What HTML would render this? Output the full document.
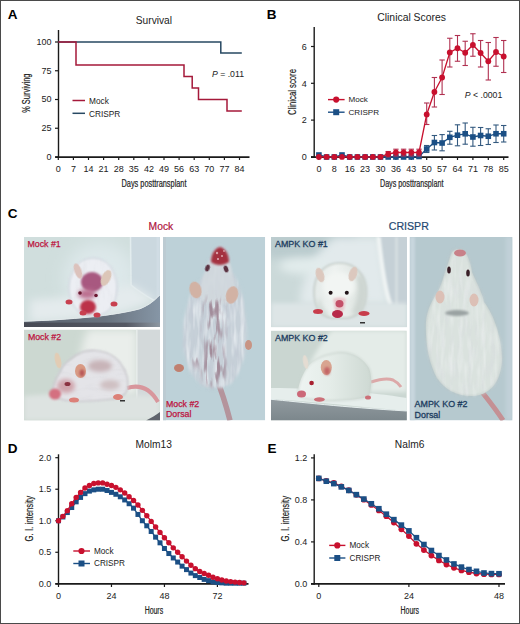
<!DOCTYPE html>
<html><head><meta charset="utf-8"><style>
html,body{margin:0;padding:0;background:#fff;}
body{width:520px;height:624px;overflow:hidden;position:relative;}
svg{position:absolute;left:0;top:0;display:block;}
text{font-family:"Liberation Sans",sans-serif;}
</style></head><body>
<svg width="520" height="624" viewBox="0 0 520 624">
<rect x="0" y="0" width="520" height="624" fill="#fff"/>
<defs>
<filter id="b05" x="-50%" y="-50%" width="200%" height="200%"><feGaussianBlur stdDeviation="0.6"/></filter>
<filter id="b1" x="-50%" y="-50%" width="200%" height="200%"><feGaussianBlur stdDeviation="1"/></filter>
<filter id="b2" x="-50%" y="-50%" width="200%" height="200%"><feGaussianBlur stdDeviation="2"/></filter>
<filter id="b4" x="-50%" y="-50%" width="200%" height="200%"><feGaussianBlur stdDeviation="4"/></filter>
<filter id="b8" x="-50%" y="-50%" width="200%" height="200%"><feGaussianBlur stdDeviation="8"/></filter>
<filter id="furW" x="-5%" y="-5%" width="110%" height="110%">
  <feTurbulence type="fractalNoise" baseFrequency="0.22 0.04" numOctaves="2" seed="4" result="n"/>
  <feColorMatrix in="n" type="matrix" values="0 0 0 0 0.95  0 0 0 0 0.96  0 0 0 0 0.97  2.2 0 0 0 -0.95" result="w"/>
  <feGaussianBlur in="SourceAlpha" stdDeviation="1.5" result="a"/>
  <feComposite in="w" in2="a" operator="in"/>
</filter>
<filter id="furD" x="-20%" y="-20%" width="140%" height="140%">
  <feTurbulence type="fractalNoise" baseFrequency="0.2 0.045" numOctaves="2" seed="9" result="n"/>
  <feColorMatrix in="n" type="matrix" values="0 0 0 0 0.38  0 0 0 0 0.2  0 0 0 0 0.26  4.0 0 0 0 -1.55" result="w"/>
  <feGaussianBlur in="SourceAlpha" stdDeviation="4" result="a"/>
  <feComposite in="w" in2="a" operator="in" result="c"/>
  <feGaussianBlur in="c" stdDeviation="0.4"/>
</filter>
<filter id="furG" x="-5%" y="-5%" width="110%" height="110%">
  <feTurbulence type="fractalNoise" baseFrequency="0.22 0.05" numOctaves="2" seed="2" result="n"/>
  <feColorMatrix in="n" type="matrix" values="0 0 0 0 0.68  0 0 0 0 0.7  0 0 0 0 0.74  2.4 0 0 0 -1.05" result="w"/>
  <feGaussianBlur in="SourceAlpha" stdDeviation="2" result="a"/>
  <feComposite in="w" in2="a" operator="in"/>
</filter>
<filter id="furH" x="-5%" y="-5%" width="110%" height="110%">
  <feTurbulence type="fractalNoise" baseFrequency="0.06 0.25" numOctaves="2" seed="7" result="n"/>
  <feColorMatrix in="n" type="matrix" values="0 0 0 0 0.72  0 0 0 0 0.72  0 0 0 0 0.75  2.0 0 0 0 -0.95" result="w"/>
  <feGaussianBlur in="SourceAlpha" stdDeviation="2" result="a"/>
  <feComposite in="w" in2="a" operator="in"/>
</filter>
<filter id="furW3" x="-5%" y="-5%" width="110%" height="110%">
  <feTurbulence type="fractalNoise" baseFrequency="0.22 0.04" numOctaves="2" seed="4" result="n"/>
  <feColorMatrix in="n" type="matrix" values="0 0 0 0 0.83  0 0 0 0 0.87  0 0 0 0 0.9  2.0 0 0 0 -0.85" result="w"/>
  <feGaussianBlur in="SourceAlpha" stdDeviation="1.5" result="a"/>
  <feComposite in="w" in2="a" operator="in"/>
</filter>
<filter id="furG3" x="-5%" y="-5%" width="110%" height="110%">
  <feTurbulence type="fractalNoise" baseFrequency="0.22 0.05" numOctaves="2" seed="2" result="n"/>
  <feColorMatrix in="n" type="matrix" values="0 0 0 0 0.55  0 0 0 0 0.6  0 0 0 0 0.67  2.4 0 0 0 -1.0" result="w"/>
  <feGaussianBlur in="SourceAlpha" stdDeviation="2" result="a"/>
  <feComposite in="w" in2="a" operator="in"/>
</filter>
<filter id="furD3" x="-20%" y="-20%" width="140%" height="140%">
  <feTurbulence type="fractalNoise" baseFrequency="0.25 0.05" numOctaves="2" seed="11" result="n"/>
  <feColorMatrix in="n" type="matrix" values="0 0 0 0 0.36  0 0 0 0 0.26  0 0 0 0 0.32  4.4 0 0 0 -2.1" result="w"/>
  <feGaussianBlur in="SourceAlpha" stdDeviation="3" result="a"/>
  <feComposite in="w" in2="a" operator="in" result="c"/>
  <feGaussianBlur in="c" stdDeviation="0.4"/>
</filter>
<clipPath id="c1"><rect x="24" y="237" width="136" height="90"/></clipPath>
<clipPath id="c2"><rect x="24" y="329.6" width="136" height="90.8"/></clipPath>
<clipPath id="c3"><rect x="163" y="237" width="102.2" height="183.4"/></clipPath>
<clipPath id="c4"><rect x="271" y="237" width="136.1" height="90.3"/></clipPath>
<clipPath id="c5"><rect x="271" y="330.6" width="135.8" height="89.8"/></clipPath>
<clipPath id="c6"><rect x="409.6" y="237" width="102.9" height="183.4"/></clipPath>
<linearGradient id="g1b" x1="0" y1="0" x2="1" y2="0"><stop offset="0" stop-color="#8a94a0"/><stop offset="1" stop-color="#b8c2cb"/></linearGradient>
<linearGradient id="g1s" x1="0" y1="0" x2="1" y2="0"><stop offset="0" stop-color="#474a54"/><stop offset="0.75" stop-color="#555964"/><stop offset="1" stop-color="#8d98a2"/></linearGradient>
<linearGradient id="g3" x1="0" y1="0" x2="0" y2="1"><stop offset="0" stop-color="#c6d8de"/><stop offset="1" stop-color="#bfd3da"/></linearGradient>
<linearGradient id="g6" x1="0" y1="0" x2="1" y2="0"><stop offset="0" stop-color="#c4d2da"/><stop offset="1" stop-color="#cdd9df"/></linearGradient>
<linearGradient id="g5b" x1="0" y1="0" x2="0" y2="1"><stop offset="0" stop-color="#a9b1b6"/><stop offset="1" stop-color="#8c949a"/></linearGradient>
<linearGradient id="g1g" x1="0" y1="0" x2="1" y2="0"><stop offset="0" stop-color="#58606c"/><stop offset="0.6" stop-color="#68727e"/><stop offset="1" stop-color="#8696a6"/></linearGradient>
<linearGradient id="g5g" x1="0" y1="0" x2="0" y2="1"><stop offset="0" stop-color="#919a9f"/><stop offset="1" stop-color="#7c878c"/></linearGradient>
<linearGradient id="g5m" x1="0" y1="0" x2="1" y2="0"><stop offset="0" stop-color="#eef4f2"/><stop offset="0.45" stop-color="#e4ece8"/><stop offset="1" stop-color="#ced9d3"/></linearGradient>
<linearGradient id="g4m" x1="0" y1="0" x2="1" y2="0"><stop offset="0" stop-color="#e4eae8"/><stop offset="0.4" stop-color="#eef2f0"/><stop offset="1" stop-color="#dbe2de"/></linearGradient>
</defs>
<!-- C label and headers -->
<text x="7.7" y="217.5" font-size="13.5" font-weight="bold" fill="#000">C</text>
<text x="160.9" y="230.3" font-size="10.3" text-anchor="middle" fill="#b0143e" stroke="#b0143e" stroke-width="0.2">Mock</text>
<text x="408.8" y="230.1" font-size="10.6" text-anchor="middle" fill="#244870" stroke="#244870" stroke-width="0.2">CRISPR</text>
<!-- P1 Mock #1 -->
<g clip-path="url(#c1)">
<rect x="24" y="237" width="136" height="90" fill="#d0dedd"/>
<ellipse cx="100" cy="278" rx="36" ry="36" fill="#dde8ea" filter="url(#b8)"/>
<path d="M131 237 L160 237 L160 300 L155 301 C148 297 138 291 131.5 285 Z" fill="#cbd8df" filter="url(#b05)"/>
<path d="M130.5 237 L131 285 C138 291 148 297 155 301" stroke="#e2ecee" stroke-width="1.5" fill="none" filter="url(#b05)"/>
<rect x="156.5" y="237" width="3" height="90" fill="#d0dce4" filter="url(#b05)"/>
<path d="M30 322 C80 320 130 312 150 302 L156 300 C150 296 140 290 131.5 285 C110 292 70 298 30 300 Z" fill="#e4ebed" filter="url(#b4)"/>
<path d="M24 327 L24 321.5 C70 320 115 316 140 309 C150 305 155 300 159 296 L160 296 L160 327 Z" fill="url(#g1g)" filter="url(#b05)"/>
<path d="M24 321.2 C70 319.7 115 315.7 140 308.7 C150 304.7 155 299.7 159 295.7" stroke="#e4eaec" stroke-width="1" fill="none"/>
<rect x="24" y="322.6" width="136" height="4.6" fill="url(#g1s)"/>
<path d="M93 258 C108 258 117 272 117 288 C117 304 108 316 93 316 C78 316 69 304 69 288 C69 272 78 258 93 258 Z" fill="#eceef3" filter="url(#b1)"/>
<path d="M93 258 C108 258 117 272 117 288 C117 304 108 316 93 316 C78 316 69 304 69 288 C69 272 78 258 93 258 Z" fill="#000" opacity="0.35" filter="url(#furG)"/>
<path d="M93 258 C108 258 117 272 117 288 C117 304 108 316 93 316 C78 316 69 304 69 288 C69 272 78 258 93 258 Z" fill="none" stroke="#c8ced8" stroke-width="1" filter="url(#b1)"/>
<ellipse cx="92" cy="282" rx="11" ry="10" fill="#a85880" filter="url(#b1)"/>
<ellipse cx="87" cy="294" rx="9" ry="5" fill="#bc7090" filter="url(#b2)"/>
<ellipse cx="78" cy="271" rx="3.5" ry="8" transform="rotate(-20 78 271)" fill="#dcc2bc" filter="url(#b05)"/>
<ellipse cx="106" cy="278" rx="4.5" ry="8.5" transform="rotate(25 106 278)" fill="#dcc6b8" filter="url(#b05)"/>
<ellipse cx="88" cy="307" rx="8" ry="7" fill="#bc3048" filter="url(#b1)"/>
<circle cx="80" cy="293" r="1.8" fill="#6a1830"/>
<circle cx="96" cy="295.5" r="1.8" fill="#6a1830"/>
<ellipse cx="69" cy="302" rx="3.5" ry="2.5" fill="#c84050" filter="url(#b05)"/>
<ellipse cx="114" cy="304" rx="3.5" ry="2.5" fill="#c84050" filter="url(#b05)"/>
<ellipse cx="83" cy="313" rx="3.5" ry="2.5" fill="#c84050" filter="url(#b05)"/>
<ellipse cx="97" cy="315" rx="3.5" ry="2.5" fill="#c84050" filter="url(#b05)"/>
</g>
<text x="27.5" y="247" font-size="8.8" fill="#bc1440" stroke="#bc1440" stroke-width="0.25">Mock #1</text>
<!-- P2 Mock #2 -->
<g clip-path="url(#c2)">
<rect x="24" y="329.6" width="136" height="91" fill="#ccd8d1"/>
<path d="M88 329.6 L137 329.6 L137 396 L80 396 C78 370 80 345 88 329.6 Z" fill="#eaeeeb" filter="url(#b4)"/>
<rect x="137" y="329.6" width="23" height="72" fill="#d3d9da" filter="url(#b05)"/>
<rect x="136" y="329.6" width="1.6" height="70" fill="#e6ecea" filter="url(#b05)"/>
<path d="M24 396 C60 393 120 393 160 397 L160 420.4 L24 420.4 Z" fill="#dde3e1" filter="url(#b2)"/>
<path d="M146 420.4 C151 418 156 415 160 412 L160 420.4 Z" fill="#5e646c" filter="url(#b05)"/>
<path d="M127 388 C140 384 150 388 158 402" stroke="#d8969c" stroke-width="4" fill="none" filter="url(#b05)"/>
<path d="M53 394 C52 386 56 378 60 372 C62 366 66 362 71 359 C78 353 86 350 94 350.5 C104 351 114 354 121 364 C127 372 129 382 127 391 C124 397 116 399 108 399.5 C96 401 82 401.5 72 401 C64 400.5 56 399 53 394 Z" fill="#e4e4e8" filter="url(#b1)"/>
<path d="M53 394 C52 386 56 378 60 372 C62 366 66 362 71 359 C78 353 86 350 94 350.5 C104 351 114 354 121 364 C127 372 129 382 127 391 C124 397 116 399 108 399.5 C96 401 82 401.5 72 401 C64 400.5 56 399 53 394 Z" fill="#000" opacity="0.85" filter="url(#furH)"/>
<path d="M53 394 C52 386 56 378 60 372 C62 366 66 362 71 359 C78 353 86 350 94 350.5 C104 351 114 354 121 364 C127 372 129 382 127 391 C124 397 116 399 108 399.5 C96 401 82 401.5 72 401 C64 400.5 56 399 53 394 Z" fill="none" stroke="#c0bec4" stroke-width="1.2" filter="url(#b1)"/>
<ellipse cx="100" cy="366" rx="12" ry="6" fill="#c8b4b8" filter="url(#b2)"/>
<ellipse cx="110" cy="385" rx="10" ry="5" fill="#cfc0c2" filter="url(#b2)"/>
<ellipse cx="66" cy="386" rx="9" ry="7" fill="#d0a4ac" filter="url(#b2)"/>
<ellipse cx="58" cy="360.5" rx="3" ry="8" transform="rotate(-12 58 360.5)" fill="#e2ccb4" filter="url(#b05)"/>
<ellipse cx="80.5" cy="371" rx="5.5" ry="7" fill="#d89a84" filter="url(#b05)"/>
<ellipse cx="82" cy="373" rx="2.5" ry="3.5" fill="#b85858" filter="url(#b1)"/>
<ellipse cx="55" cy="394" rx="6" ry="5.5" fill="#d47080" filter="url(#b1)"/>
<ellipse cx="67.5" cy="384" rx="3" ry="2" fill="#8a3040" filter="url(#b05)"/>
<ellipse cx="74" cy="400" rx="5" ry="2.5" fill="#dc8078" filter="url(#b05)"/>
<ellipse cx="118" cy="397" rx="5" ry="3" fill="#dc8078" filter="url(#b05)"/>
<rect x="120" y="400" width="5" height="1.5" fill="#333"/>
</g>
<text x="27.9" y="340.2" font-size="8.8" fill="#bc1440" stroke="#bc1440" stroke-width="0.25">Mock #2</text>
<!-- P3 Mock dorsal -->
<g clip-path="url(#c3)">
<rect x="163" y="237" width="102.2" height="183.4" fill="#bdd1d8"/>
<rect x="163" y="237" width="3" height="183.4" fill="#bccbd2" filter="url(#b05)"/>
<path d="M216 377 C222 392 226 405 230 420.4" stroke="#b4949c" stroke-width="5.5" fill="none" filter="url(#b05)"/>
<path d="M220 247 C225 249 229 258 231 272 C236 278 240 286 242 296 C246 310 247 325 246 340 C245 360 240 375 230 384 C222 389 208 389 200 384 C190 375 184 360 183 340 C183 322 186 305 192 292 C196 284 202 278 207 272 C210 258 215 249 220 247 Z" fill="#c6d0d8" filter="url(#b1)"/>
<path d="M220 247 C225 249 229 258 231 272 C236 278 240 286 242 296 C246 310 247 325 246 340 C245 360 240 375 230 384 C222 389 208 389 200 384 C190 375 184 360 183 340 C183 322 186 305 192 292 C196 284 202 278 207 272 C210 258 215 249 220 247 Z" fill="#000" filter="url(#furG3)"/>
<path d="M220 247 C225 249 229 258 231 272 C236 278 240 286 242 296 C246 310 247 325 246 340 C245 360 240 375 230 384 C222 389 208 389 200 384 C190 375 184 360 183 340 C183 322 186 305 192 292 C196 284 202 278 207 272 C210 258 215 249 220 247 Z" fill="#000" filter="url(#furW3)"/>
<path d="M220 250 C226 252 231 264 233 276 C236 286 236 296 230 302 C222 306 210 306 202 300 C198 292 201 280 206 270 C209 260 214 251 220 250 Z" fill="#d2d9de" opacity="0.85" filter="url(#b1)"/>
<ellipse cx="195.5" cy="290" rx="6" ry="8.5" transform="rotate(-15 195.5 290)" fill="#d2b2a4" filter="url(#b05)"/>
<ellipse cx="232" cy="295" rx="6" ry="9" transform="rotate(15 232 295)" fill="#d2b2a4" filter="url(#b05)"/>
<path d="M220 247 C225 248 229 254 229 262 C223 266 216 266 211 262 C211 254 215 248 220 247 Z" fill="#a4303f" filter="url(#b1)"/>
<circle cx="217" cy="253" r="1.2" fill="#d8a0a8"/><circle cx="222" cy="256" r="1.1" fill="#d8a0a8"/><circle cx="218" cy="259" r="1" fill="#e0b0b8"/><circle cx="224" cy="251" r="0.9" fill="#d8a0a8"/>

<ellipse cx="207.5" cy="268" rx="2.2" ry="3.5" transform="rotate(20 207.5 268)" fill="#5a3040" filter="url(#b05)"/>
<ellipse cx="226" cy="269" rx="2.2" ry="3.5" transform="rotate(-20 226 269)" fill="#5a3040" filter="url(#b05)"/>
<path d="M214 296 C221 298 224 320 224 345 C224 370 221 386 214 386 C207 386 204 370 204 345 C204 320 207 298 214 296 Z" fill="#000" filter="url(#furD3)"/>
<ellipse cx="214" cy="306" rx="11" ry="8" fill="#000" filter="url(#furD3)"/>
<ellipse cx="214" cy="370" rx="11" ry="14" fill="#000" filter="url(#furD3)"/>
<ellipse cx="196" cy="358" rx="4" ry="10" fill="#000" filter="url(#furD3)"/>
<ellipse cx="179" cy="368" rx="5" ry="4" fill="#c08070" filter="url(#b05)"/>
<ellipse cx="248.5" cy="345" rx="3.5" ry="5" fill="#c89484" filter="url(#b05)"/>
</g>
<text x="166" y="406.5" font-size="8.8" fill="#bc1440" stroke="#bc1440" stroke-width="0.25">Mock #2</text>
<text x="166" y="417.3" font-size="8.8" fill="#bc1440" stroke="#bc1440" stroke-width="0.25">Dorsal</text>
<!-- P4 AMPK KO #1 -->
<g clip-path="url(#c4)">
<rect x="271" y="237" width="136.1" height="90.3" fill="#cbd9d9"/>
<rect x="266" y="232" width="90" height="26" fill="#bacbce" filter="url(#b4)"/>
<path d="M335 237 L380 237 C383 265 386 290 390 305 L300 305 C300 280 315 250 335 237 Z" fill="#e2eaec" filter="url(#b4)"/>
<ellipse cx="305" cy="266" rx="26" ry="8" fill="#e2ecec" filter="url(#b4)"/>
<path d="M379 237 C382 265 385 290 391 305 L407 305 L407 237 Z" fill="#c5d0d6" filter="url(#b05)"/>
<path d="M378.5 237 C381.5 265 384.5 290 390.5 305" stroke="#eef3f3" stroke-width="4.5" fill="none" filter="url(#b1)"/>
<rect x="395" y="237" width="3" height="70" fill="#d4dde0" filter="url(#b1)"/>
<path d="M271 303 L407 303 L407 327.3 L271 327.3 Z" fill="#dde5e6" filter="url(#b2)"/>
<path d="M340 263 C356 263 366 275 366 292 C366 306 360 316 348 318 L332 318 C320 316 314 306 314 292 C314 275 324 263 340 263 Z" fill="url(#g4m)" filter="url(#b05)"/>
<path d="M340 263 C356 263 366 275 366 292 C366 306 360 316 348 318 L332 318 C320 316 314 306 314 292 C314 275 324 263 340 263 Z" fill="none" stroke="#c4ccc8" stroke-width="1.6" filter="url(#b1)"/>
<path d="M362 275 C368 285 368 300 362 312 C358 316 354 316 352 312 C358 300 360 288 356 276 Z" fill="#cdd5d1" filter="url(#b2)"/>
<path d="M318 300 C316 306 318 312 324 316 L330 316 C324 310 321 305 320 298 Z" fill="#d2dad6" filter="url(#b2)"/>
<ellipse cx="339" cy="286" rx="16" ry="14" fill="#f2f5f3" filter="url(#b2)"/>
<path d="M333 299 C336 297 343 297 346 299 L344 310 C341 312 337 312 335 310 Z" fill="#e8c8cc" filter="url(#b1)"/>
<ellipse cx="320" cy="275" rx="4" ry="7.5" transform="rotate(-18 320 275)" fill="#dcc8be" filter="url(#b05)"/>
<ellipse cx="353" cy="274" rx="4" ry="7.5" transform="rotate(18 353 274)" fill="#dcc8be" filter="url(#b05)"/>
<circle cx="330.6" cy="292.7" r="2" fill="#201418"/>
<circle cx="346.8" cy="292.7" r="2" fill="#201418"/>
<ellipse cx="339.5" cy="303.7" rx="4" ry="3.8" fill="#c45068" filter="url(#b05)"/>
<ellipse cx="337.5" cy="314" rx="5.5" ry="4" fill="#b82c48" filter="url(#b05)"/>
<ellipse cx="318" cy="311.5" rx="5" ry="2.5" fill="#c83c4c" filter="url(#b05)"/>
<ellipse cx="364" cy="313.4" rx="5.5" ry="2.5" fill="#c83c4c" filter="url(#b05)"/>
<rect x="360" y="322" width="5" height="1.5" fill="#333"/>
</g>
<text x="275.0" y="246.8" font-size="8.9" fill="#1c3c60" stroke="#1c3c60" stroke-width="0.3">AMPK KO #1</text>
<!-- P5 AMPK KO #2 -->
<g clip-path="url(#c5)">
<rect x="271" y="330.6" width="135.8" height="89.8" fill="#cad6d1"/>
<path d="M332 330.6 L407 330.6 L407 392 L300 392 C305 370 318 345 332 330.6 Z" fill="#e4ece8" filter="url(#b2)"/>
<path d="M271 388 C320 388 370 392 407 398 L407 411 C360 407 310 401 271 399.3 Z" fill="#e6eeec" filter="url(#b05)"/>
<path d="M271 399.3 C300 402 340 407 407 411 L407 420.4 L271 420.4 Z" fill="url(#g5g)" filter="url(#b05)"/>
<path d="M271 399.3 C300 402 340 407 407 411" stroke="#e6eeee" stroke-width="1" fill="none"/>
<path d="M371 382 C380 379 388 378 393 380 C397 382 399 384 401 387" stroke="#dca8a8" stroke-width="3" fill="none" filter="url(#b05)"/>
<path d="M298 394 C298 386 301 378 305 371 C310 362 320 356 331 354 C337 352 343 352 348 353 C357 355 364 360 369 368 C372 376 372 386 369 396 C364 399 350 400 336 400.5 C324 401 312 400 304 398 C300 397 298 396 298 394 Z" fill="url(#g5m)" filter="url(#b05)"/>
<path d="M298 394 C298 386 301 378 305 371 C310 362 320 356 331 354 C337 352 343 352 348 353 C357 355 364 360 369 368 C372 376 372 386 369 396 C364 399 350 400 336 400.5 C324 401 312 400 304 398 C300 397 298 396 298 394 Z" fill="none" stroke="#c4cec8" stroke-width="1" filter="url(#b1)"/>
<ellipse cx="305.6" cy="362" rx="2.5" ry="7" transform="rotate(-10 305.6 362)" fill="#e4dcd2" filter="url(#b05)"/>
<ellipse cx="326.3" cy="367.5" rx="5.5" ry="7.5" fill="#d8a490" filter="url(#b05)"/>
<ellipse cx="327" cy="371" rx="3" ry="4" fill="#c46868" filter="url(#b1)"/>
<ellipse cx="301.5" cy="394" rx="4.5" ry="3.5" fill="#cc6878" filter="url(#b05)"/>
<circle cx="311.6" cy="383" r="2.3" fill="#a82030"/>
<ellipse cx="319.4" cy="399.5" rx="5.5" ry="2.2" fill="#cc7078" filter="url(#b05)"/>
<ellipse cx="368" cy="397.5" rx="3" ry="2" fill="#cc7078" filter="url(#b05)"/>
</g>
<text x="275.0" y="340.6" font-size="8.9" fill="#1c3c60" stroke="#1c3c60" stroke-width="0.3">AMPK KO #2</text>
<!-- P6 CRISPR dorsal -->
<g clip-path="url(#c6)">
<rect x="409.6" y="237" width="102.9" height="183.4" fill="#b6c9cf"/>
<rect x="410" y="237" width="5" height="183.4" fill="#c8d6de" filter="url(#b1)"/>
<rect x="506" y="237" width="6.5" height="183.4" fill="#c2d2d9" filter="url(#b2)"/>
<path d="M482 392 C490 402 497 411 503 420.4" stroke="#c49094" stroke-width="5" fill="none" filter="url(#b05)"/>
<path d="M460 249 C466 250 470 260 472 272 C476 282 482 292 484 302 C494 315 502 338 502 360 C501 380 492 394 474 396 C458 397 445 390 437 378 C429 364 425 342 426 322 C427 310 432 300 438 292 C444 278 448 262 452 252 C454 250 457 249 460 249 Z" fill="#dae2de" filter="url(#b05)"/>
<path d="M460 249 C466 250 470 260 472 272 C476 282 482 292 484 302 C494 315 502 338 502 360 C501 380 492 394 474 396 C458 397 445 390 437 378 C429 364 425 342 426 322 C427 310 432 300 438 292 C444 278 448 262 452 252 C454 250 457 249 460 249 Z" fill="none" stroke="#b8c4c4" stroke-width="1.2" filter="url(#b1)"/>
<path d="M460 249 C466 250 470 260 472 272 C476 282 482 292 484 302 C494 315 502 338 502 360 C501 380 492 394 474 396 C458 397 445 390 437 378 C429 364 425 342 426 322 C427 310 432 300 438 292 C444 278 448 262 452 252 C454 250 457 249 460 249 Z" fill="#000" opacity="0.4" filter="url(#furG)"/>
<path d="M460 249 C466 250 470 260 472 272 C476 282 482 292 484 302 C494 315 502 338 502 360 C501 380 492 394 474 396 C458 397 445 390 437 378 C429 364 425 342 426 322 C427 310 432 300 438 292 C444 278 448 262 452 252 C454 250 457 249 460 249 Z" fill="#000" opacity="0.4" filter="url(#furW)"/>
<ellipse cx="460" cy="253" rx="6" ry="3.5" fill="#c88088" filter="url(#b05)"/>
<ellipse cx="449" cy="270" rx="1.8" ry="3.5" fill="#3a2028"/>
<ellipse cx="468" cy="273" rx="1.8" ry="3.5" fill="#3a2028"/>
<ellipse cx="440" cy="297" rx="4.5" ry="6.5" fill="#dcc0b6" filter="url(#b05)"/>
<ellipse cx="474" cy="300" rx="4.5" ry="6.5" fill="#dcc0b6" filter="url(#b05)"/>
<ellipse cx="457" cy="313" rx="12" ry="3" fill="#9aa2a2" filter="url(#b1)"/>
</g>
<text x="414.6" y="406.8" font-size="8.9" fill="#1c3c60" stroke="#1c3c60" stroke-width="0.3">AMPK KO #2</text>
<text x="414.6" y="417.8" font-size="8.9" fill="#1c3c60" stroke="#1c3c60" stroke-width="0.3">Dorsal</text>

<text x="7.80" y="18.70" font-size="13.5" text-anchor="start" fill="#000" font-weight="bold" >A</text>
<text x="153.90" y="24.00" font-size="10.2" text-anchor="middle" fill="#222" font-weight="normal" >Survival</text>
<line x1="58.50" y1="30.00" x2="58.50" y2="157.80" stroke="#1a1a1a" stroke-width="1.4"/>
<line x1="55.20" y1="157.05" x2="249.50" y2="157.05" stroke="#1a1a1a" stroke-width="1.7"/>
<line x1="55.00" y1="157.00" x2="58.50" y2="157.00" stroke="#1a1a1a" stroke-width="1.2"/>
<text x="51.60" y="159.80" font-size="9" text-anchor="end" fill="#222" font-weight="normal" >0</text>
<line x1="55.00" y1="128.25" x2="58.50" y2="128.25" stroke="#1a1a1a" stroke-width="1.2"/>
<text x="51.60" y="131.05" font-size="9" text-anchor="end" fill="#222" font-weight="normal" >25</text>
<line x1="55.00" y1="99.50" x2="58.50" y2="99.50" stroke="#1a1a1a" stroke-width="1.2"/>
<text x="51.60" y="102.30" font-size="9" text-anchor="end" fill="#222" font-weight="normal" >50</text>
<line x1="55.00" y1="70.75" x2="58.50" y2="70.75" stroke="#1a1a1a" stroke-width="1.2"/>
<text x="51.60" y="73.55" font-size="9" text-anchor="end" fill="#222" font-weight="normal" >75</text>
<line x1="55.00" y1="42.00" x2="58.50" y2="42.00" stroke="#1a1a1a" stroke-width="1.2"/>
<text x="51.60" y="44.80" font-size="9" text-anchor="end" fill="#222" font-weight="normal" >100</text>
<line x1="58.30" y1="157.00" x2="58.30" y2="160.00" stroke="#1a1a1a" stroke-width="1.2"/>
<text x="58.30" y="171.80" font-size="9" text-anchor="middle" fill="#222" font-weight="normal" >0</text>
<line x1="73.40" y1="157.00" x2="73.40" y2="160.00" stroke="#1a1a1a" stroke-width="1.2"/>
<text x="73.40" y="171.80" font-size="9" text-anchor="middle" fill="#222" font-weight="normal" >7</text>
<line x1="88.50" y1="157.00" x2="88.50" y2="160.00" stroke="#1a1a1a" stroke-width="1.2"/>
<text x="88.50" y="171.80" font-size="9" text-anchor="middle" fill="#222" font-weight="normal" >14</text>
<line x1="103.60" y1="157.00" x2="103.60" y2="160.00" stroke="#1a1a1a" stroke-width="1.2"/>
<text x="103.60" y="171.80" font-size="9" text-anchor="middle" fill="#222" font-weight="normal" >21</text>
<line x1="118.70" y1="157.00" x2="118.70" y2="160.00" stroke="#1a1a1a" stroke-width="1.2"/>
<text x="118.70" y="171.80" font-size="9" text-anchor="middle" fill="#222" font-weight="normal" >28</text>
<line x1="133.80" y1="157.00" x2="133.80" y2="160.00" stroke="#1a1a1a" stroke-width="1.2"/>
<text x="133.80" y="171.80" font-size="9" text-anchor="middle" fill="#222" font-weight="normal" >35</text>
<line x1="148.90" y1="157.00" x2="148.90" y2="160.00" stroke="#1a1a1a" stroke-width="1.2"/>
<text x="148.90" y="171.80" font-size="9" text-anchor="middle" fill="#222" font-weight="normal" >42</text>
<line x1="164.00" y1="157.00" x2="164.00" y2="160.00" stroke="#1a1a1a" stroke-width="1.2"/>
<text x="164.00" y="171.80" font-size="9" text-anchor="middle" fill="#222" font-weight="normal" >49</text>
<line x1="179.10" y1="157.00" x2="179.10" y2="160.00" stroke="#1a1a1a" stroke-width="1.2"/>
<text x="179.10" y="171.80" font-size="9" text-anchor="middle" fill="#222" font-weight="normal" >56</text>
<line x1="194.20" y1="157.00" x2="194.20" y2="160.00" stroke="#1a1a1a" stroke-width="1.2"/>
<text x="194.20" y="171.80" font-size="9" text-anchor="middle" fill="#222" font-weight="normal" >63</text>
<line x1="209.30" y1="157.00" x2="209.30" y2="160.00" stroke="#1a1a1a" stroke-width="1.2"/>
<text x="209.30" y="171.80" font-size="9" text-anchor="middle" fill="#222" font-weight="normal" >70</text>
<line x1="224.40" y1="157.00" x2="224.40" y2="160.00" stroke="#1a1a1a" stroke-width="1.2"/>
<text x="224.40" y="171.80" font-size="9" text-anchor="middle" fill="#222" font-weight="normal" >77</text>
<line x1="239.50" y1="157.00" x2="239.50" y2="160.00" stroke="#1a1a1a" stroke-width="1.2"/>
<text x="239.50" y="171.80" font-size="9" text-anchor="middle" fill="#222" font-weight="normal" >84</text>
<text x="154" y="186.5" font-size="10" text-anchor="middle" fill="#222" textLength="65" stroke="#222" stroke-width="0.2" lengthAdjust="spacingAndGlyphs">Days posttransplant</text>
<text transform="translate(29.70,93.20) rotate(-90)" x="0" y="0" font-size="10" text-anchor="middle" fill="#222" stroke="#222" stroke-width="0.2" textLength="39.2" lengthAdjust="spacingAndGlyphs">% Surviving</text>
<polyline points="58.30,42.00 220.80,42.00 220.80,53.00 241.80,53.00" fill="none" stroke="#274862" stroke-width="1.5" stroke-linejoin="miter"/>
<polyline points="58.30,42.00 76.00,42.00 76.00,65.00 184.00,65.00 184.00,76.50 192.20,76.50 192.20,88.00 198.50,88.00 198.50,99.50 227.00,99.50 227.00,111.00 241.80,111.00" fill="none" stroke="#a5193a" stroke-width="1.5" stroke-linejoin="miter"/>
<line x1="72.50" y1="100.50" x2="85.00" y2="100.50" stroke="#a5193a" stroke-width="1.5"/>
<line x1="72.50" y1="113.30" x2="85.00" y2="113.30" stroke="#274862" stroke-width="1.5"/>
<text x="89.00" y="103.90" font-size="8.3" text-anchor="start" fill="#222" font-weight="normal" >Mock</text>
<text x="89.00" y="116.60" font-size="8.3" text-anchor="start" fill="#222" font-weight="normal" >CRISPR</text>
<text x="212" y="76.5" font-size="8.7" fill="#222"><tspan font-style="italic">P</tspan> = .011</text>
<text x="266.80" y="18.70" font-size="13.5" text-anchor="start" fill="#000" font-weight="bold" >B</text>
<text x="411.60" y="21.20" font-size="10.4" text-anchor="middle" fill="#222" font-weight="normal" >Clinical Scores</text>
<line x1="314.20" y1="27.00" x2="314.20" y2="157.80" stroke="#1a1a1a" stroke-width="1.4"/>
<line x1="311.00" y1="157.05" x2="508.50" y2="157.05" stroke="#1a1a1a" stroke-width="1.7"/>
<line x1="311.00" y1="156.90" x2="314.20" y2="156.90" stroke="#1a1a1a" stroke-width="1.2"/>
<text x="306.80" y="160.10" font-size="9" text-anchor="end" fill="#222" font-weight="normal" >0</text>
<line x1="311.00" y1="120.10" x2="314.20" y2="120.10" stroke="#1a1a1a" stroke-width="1.2"/>
<text x="306.80" y="123.30" font-size="9" text-anchor="end" fill="#222" font-weight="normal" >2</text>
<line x1="311.00" y1="83.30" x2="314.20" y2="83.30" stroke="#1a1a1a" stroke-width="1.2"/>
<text x="306.80" y="86.50" font-size="9" text-anchor="end" fill="#222" font-weight="normal" >4</text>
<line x1="311.00" y1="46.50" x2="314.20" y2="46.50" stroke="#1a1a1a" stroke-width="1.2"/>
<text x="306.80" y="49.70" font-size="9" text-anchor="end" fill="#222" font-weight="normal" >6</text>
<line x1="318.90" y1="157.00" x2="318.90" y2="160.00" stroke="#1a1a1a" stroke-width="1.2"/>
<text x="318.90" y="171.70" font-size="9" text-anchor="middle" fill="#222" font-weight="normal" >0</text>
<line x1="334.30" y1="157.00" x2="334.30" y2="160.00" stroke="#1a1a1a" stroke-width="1.2"/>
<text x="334.30" y="171.70" font-size="9" text-anchor="middle" fill="#222" font-weight="normal" >8</text>
<line x1="349.70" y1="157.00" x2="349.70" y2="160.00" stroke="#1a1a1a" stroke-width="1.2"/>
<text x="349.70" y="171.70" font-size="9" text-anchor="middle" fill="#222" font-weight="normal" >16</text>
<line x1="365.10" y1="157.00" x2="365.10" y2="160.00" stroke="#1a1a1a" stroke-width="1.2"/>
<text x="365.10" y="171.70" font-size="9" text-anchor="middle" fill="#222" font-weight="normal" >23</text>
<line x1="380.50" y1="157.00" x2="380.50" y2="160.00" stroke="#1a1a1a" stroke-width="1.2"/>
<text x="380.50" y="171.70" font-size="9" text-anchor="middle" fill="#222" font-weight="normal" >30</text>
<line x1="395.90" y1="157.00" x2="395.90" y2="160.00" stroke="#1a1a1a" stroke-width="1.2"/>
<text x="395.90" y="171.70" font-size="9" text-anchor="middle" fill="#222" font-weight="normal" >36</text>
<line x1="411.30" y1="157.00" x2="411.30" y2="160.00" stroke="#1a1a1a" stroke-width="1.2"/>
<text x="411.30" y="171.70" font-size="9" text-anchor="middle" fill="#222" font-weight="normal" >43</text>
<line x1="426.70" y1="157.00" x2="426.70" y2="160.00" stroke="#1a1a1a" stroke-width="1.2"/>
<text x="426.70" y="171.70" font-size="9" text-anchor="middle" fill="#222" font-weight="normal" >50</text>
<line x1="442.10" y1="157.00" x2="442.10" y2="160.00" stroke="#1a1a1a" stroke-width="1.2"/>
<text x="442.10" y="171.70" font-size="9" text-anchor="middle" fill="#222" font-weight="normal" >57</text>
<line x1="457.50" y1="157.00" x2="457.50" y2="160.00" stroke="#1a1a1a" stroke-width="1.2"/>
<text x="457.50" y="171.70" font-size="9" text-anchor="middle" fill="#222" font-weight="normal" >64</text>
<line x1="472.90" y1="157.00" x2="472.90" y2="160.00" stroke="#1a1a1a" stroke-width="1.2"/>
<text x="472.90" y="171.70" font-size="9" text-anchor="middle" fill="#222" font-weight="normal" >71</text>
<line x1="488.30" y1="157.00" x2="488.30" y2="160.00" stroke="#1a1a1a" stroke-width="1.2"/>
<text x="488.30" y="171.70" font-size="9" text-anchor="middle" fill="#222" font-weight="normal" >78</text>
<line x1="503.70" y1="157.00" x2="503.70" y2="160.00" stroke="#1a1a1a" stroke-width="1.2"/>
<text x="503.70" y="171.70" font-size="9" text-anchor="middle" fill="#222" font-weight="normal" >85</text>
<text x="411.7" y="186.5" font-size="10" text-anchor="middle" fill="#222" textLength="63.5" stroke="#222" stroke-width="0.2" lengthAdjust="spacingAndGlyphs">Days posttransplant</text>
<text transform="translate(296.20,92.00) rotate(-90)" x="0" y="0" font-size="10" text-anchor="middle" fill="#222" stroke="#222" stroke-width="0.2" textLength="46" lengthAdjust="spacingAndGlyphs">Clinical score</text>
<line x1="426.70" y1="145.50" x2="426.70" y2="152.50" stroke="#33597f" stroke-width="1.1"/>
<line x1="424.00" y1="145.50" x2="429.40" y2="145.50" stroke="#33597f" stroke-width="1.1"/>
<line x1="424.00" y1="152.50" x2="429.40" y2="152.50" stroke="#33597f" stroke-width="1.1"/>
<line x1="434.40" y1="135.50" x2="434.40" y2="150.00" stroke="#33597f" stroke-width="1.1"/>
<line x1="431.70" y1="135.50" x2="437.10" y2="135.50" stroke="#33597f" stroke-width="1.1"/>
<line x1="431.70" y1="150.00" x2="437.10" y2="150.00" stroke="#33597f" stroke-width="1.1"/>
<line x1="442.10" y1="134.60" x2="442.10" y2="150.80" stroke="#33597f" stroke-width="1.1"/>
<line x1="439.40" y1="134.60" x2="444.80" y2="134.60" stroke="#33597f" stroke-width="1.1"/>
<line x1="439.40" y1="150.80" x2="444.80" y2="150.80" stroke="#33597f" stroke-width="1.1"/>
<line x1="449.80" y1="131.30" x2="449.80" y2="144.20" stroke="#33597f" stroke-width="1.1"/>
<line x1="447.10" y1="131.30" x2="452.50" y2="131.30" stroke="#33597f" stroke-width="1.1"/>
<line x1="447.10" y1="144.20" x2="452.50" y2="144.20" stroke="#33597f" stroke-width="1.1"/>
<line x1="457.50" y1="124.80" x2="457.50" y2="145.80" stroke="#33597f" stroke-width="1.1"/>
<line x1="454.80" y1="124.80" x2="460.20" y2="124.80" stroke="#33597f" stroke-width="1.1"/>
<line x1="454.80" y1="145.80" x2="460.20" y2="145.80" stroke="#33597f" stroke-width="1.1"/>
<line x1="465.20" y1="123.00" x2="465.20" y2="144.20" stroke="#33597f" stroke-width="1.1"/>
<line x1="462.50" y1="123.00" x2="467.90" y2="123.00" stroke="#33597f" stroke-width="1.1"/>
<line x1="462.50" y1="144.20" x2="467.90" y2="144.20" stroke="#33597f" stroke-width="1.1"/>
<line x1="472.90" y1="127.30" x2="472.90" y2="146.20" stroke="#33597f" stroke-width="1.1"/>
<line x1="470.20" y1="127.30" x2="475.60" y2="127.30" stroke="#33597f" stroke-width="1.1"/>
<line x1="470.20" y1="146.20" x2="475.60" y2="146.20" stroke="#33597f" stroke-width="1.1"/>
<line x1="480.60" y1="127.50" x2="480.60" y2="145.50" stroke="#33597f" stroke-width="1.1"/>
<line x1="477.90" y1="127.50" x2="483.30" y2="127.50" stroke="#33597f" stroke-width="1.1"/>
<line x1="477.90" y1="145.50" x2="483.30" y2="145.50" stroke="#33597f" stroke-width="1.1"/>
<line x1="488.30" y1="128.75" x2="488.30" y2="144.50" stroke="#33597f" stroke-width="1.1"/>
<line x1="485.60" y1="128.75" x2="491.00" y2="128.75" stroke="#33597f" stroke-width="1.1"/>
<line x1="485.60" y1="144.50" x2="491.00" y2="144.50" stroke="#33597f" stroke-width="1.1"/>
<line x1="496.00" y1="125.00" x2="496.00" y2="142.50" stroke="#33597f" stroke-width="1.1"/>
<line x1="493.30" y1="125.00" x2="498.70" y2="125.00" stroke="#33597f" stroke-width="1.1"/>
<line x1="493.30" y1="142.50" x2="498.70" y2="142.50" stroke="#33597f" stroke-width="1.1"/>
<line x1="503.70" y1="125.50" x2="503.70" y2="142.00" stroke="#33597f" stroke-width="1.1"/>
<line x1="501.00" y1="125.50" x2="506.40" y2="125.50" stroke="#33597f" stroke-width="1.1"/>
<line x1="501.00" y1="142.00" x2="506.40" y2="142.00" stroke="#33597f" stroke-width="1.1"/>
<polyline points="318.90,155.00 326.60,157.00 334.30,157.00 342.00,155.00 349.70,157.00 357.40,157.00 365.10,157.00 372.80,157.00 380.50,157.00 388.20,157.00 395.90,157.00 403.60,157.00 411.30,157.00 419.00,156.50 426.70,149.00 434.40,142.50 442.10,143.00 449.80,137.30 457.50,135.20 465.20,133.80 472.90,137.00 480.60,135.50 488.30,136.25 496.00,133.75 503.70,133.75" fill="none" stroke="#1b4f85" stroke-width="1.3" stroke-linejoin="miter"/>
<rect x="316.10" y="152.20" width="5.6" height="5.6" fill="#1b4f85"/>
<rect x="323.80" y="154.20" width="5.6" height="5.6" fill="#1b4f85"/>
<rect x="331.50" y="154.20" width="5.6" height="5.6" fill="#1b4f85"/>
<rect x="339.20" y="152.20" width="5.6" height="5.6" fill="#1b4f85"/>
<rect x="346.90" y="154.20" width="5.6" height="5.6" fill="#1b4f85"/>
<rect x="354.60" y="154.20" width="5.6" height="5.6" fill="#1b4f85"/>
<rect x="362.30" y="154.20" width="5.6" height="5.6" fill="#1b4f85"/>
<rect x="370.00" y="154.20" width="5.6" height="5.6" fill="#1b4f85"/>
<rect x="377.70" y="154.20" width="5.6" height="5.6" fill="#1b4f85"/>
<rect x="385.40" y="154.20" width="5.6" height="5.6" fill="#1b4f85"/>
<rect x="393.10" y="154.20" width="5.6" height="5.6" fill="#1b4f85"/>
<rect x="400.80" y="154.20" width="5.6" height="5.6" fill="#1b4f85"/>
<rect x="408.50" y="154.20" width="5.6" height="5.6" fill="#1b4f85"/>
<rect x="416.20" y="153.70" width="5.6" height="5.6" fill="#1b4f85"/>
<rect x="423.90" y="146.20" width="5.6" height="5.6" fill="#1b4f85"/>
<rect x="431.60" y="139.70" width="5.6" height="5.6" fill="#1b4f85"/>
<rect x="439.30" y="140.20" width="5.6" height="5.6" fill="#1b4f85"/>
<rect x="447.00" y="134.50" width="5.6" height="5.6" fill="#1b4f85"/>
<rect x="454.70" y="132.40" width="5.6" height="5.6" fill="#1b4f85"/>
<rect x="462.40" y="131.00" width="5.6" height="5.6" fill="#1b4f85"/>
<rect x="470.10" y="134.20" width="5.6" height="5.6" fill="#1b4f85"/>
<rect x="477.80" y="132.70" width="5.6" height="5.6" fill="#1b4f85"/>
<rect x="485.50" y="133.45" width="5.6" height="5.6" fill="#1b4f85"/>
<rect x="493.20" y="130.95" width="5.6" height="5.6" fill="#1b4f85"/>
<rect x="500.90" y="130.95" width="5.6" height="5.6" fill="#1b4f85"/>
<line x1="388.20" y1="151.50" x2="388.20" y2="156.90" stroke="#b03050" stroke-width="1.1"/>
<line x1="385.50" y1="151.50" x2="390.90" y2="151.50" stroke="#b03050" stroke-width="1.1"/>
<line x1="385.50" y1="156.90" x2="390.90" y2="156.90" stroke="#b03050" stroke-width="1.1"/>
<line x1="395.90" y1="149.20" x2="395.90" y2="156.00" stroke="#b03050" stroke-width="1.1"/>
<line x1="393.20" y1="149.20" x2="398.60" y2="149.20" stroke="#b03050" stroke-width="1.1"/>
<line x1="393.20" y1="156.00" x2="398.60" y2="156.00" stroke="#b03050" stroke-width="1.1"/>
<line x1="403.60" y1="149.20" x2="403.60" y2="156.00" stroke="#b03050" stroke-width="1.1"/>
<line x1="400.90" y1="149.20" x2="406.30" y2="149.20" stroke="#b03050" stroke-width="1.1"/>
<line x1="400.90" y1="156.00" x2="406.30" y2="156.00" stroke="#b03050" stroke-width="1.1"/>
<line x1="411.30" y1="149.20" x2="411.30" y2="156.00" stroke="#b03050" stroke-width="1.1"/>
<line x1="408.60" y1="149.20" x2="414.00" y2="149.20" stroke="#b03050" stroke-width="1.1"/>
<line x1="408.60" y1="156.00" x2="414.00" y2="156.00" stroke="#b03050" stroke-width="1.1"/>
<line x1="419.00" y1="149.20" x2="419.00" y2="156.00" stroke="#b03050" stroke-width="1.1"/>
<line x1="416.30" y1="149.20" x2="421.70" y2="149.20" stroke="#b03050" stroke-width="1.1"/>
<line x1="416.30" y1="156.00" x2="421.70" y2="156.00" stroke="#b03050" stroke-width="1.1"/>
<line x1="426.70" y1="103.00" x2="426.70" y2="124.50" stroke="#b03050" stroke-width="1.1"/>
<line x1="424.00" y1="103.00" x2="429.40" y2="103.00" stroke="#b03050" stroke-width="1.1"/>
<line x1="424.00" y1="124.50" x2="429.40" y2="124.50" stroke="#b03050" stroke-width="1.1"/>
<line x1="434.40" y1="77.50" x2="434.40" y2="107.00" stroke="#b03050" stroke-width="1.1"/>
<line x1="431.70" y1="77.50" x2="437.10" y2="77.50" stroke="#b03050" stroke-width="1.1"/>
<line x1="431.70" y1="107.00" x2="437.10" y2="107.00" stroke="#b03050" stroke-width="1.1"/>
<line x1="442.10" y1="60.00" x2="442.10" y2="94.50" stroke="#b03050" stroke-width="1.1"/>
<line x1="439.40" y1="60.00" x2="444.80" y2="60.00" stroke="#b03050" stroke-width="1.1"/>
<line x1="439.40" y1="94.50" x2="444.80" y2="94.50" stroke="#b03050" stroke-width="1.1"/>
<line x1="449.80" y1="38.25" x2="449.80" y2="67.00" stroke="#b03050" stroke-width="1.1"/>
<line x1="447.10" y1="38.25" x2="452.50" y2="38.25" stroke="#b03050" stroke-width="1.1"/>
<line x1="447.10" y1="67.00" x2="452.50" y2="67.00" stroke="#b03050" stroke-width="1.1"/>
<line x1="457.50" y1="35.50" x2="457.50" y2="61.25" stroke="#b03050" stroke-width="1.1"/>
<line x1="454.80" y1="35.50" x2="460.20" y2="35.50" stroke="#b03050" stroke-width="1.1"/>
<line x1="454.80" y1="61.25" x2="460.20" y2="61.25" stroke="#b03050" stroke-width="1.1"/>
<line x1="465.20" y1="41.25" x2="465.20" y2="65.50" stroke="#b03050" stroke-width="1.1"/>
<line x1="462.50" y1="41.25" x2="467.90" y2="41.25" stroke="#b03050" stroke-width="1.1"/>
<line x1="462.50" y1="65.50" x2="467.90" y2="65.50" stroke="#b03050" stroke-width="1.1"/>
<line x1="472.90" y1="33.75" x2="472.90" y2="56.25" stroke="#b03050" stroke-width="1.1"/>
<line x1="470.20" y1="33.75" x2="475.60" y2="33.75" stroke="#b03050" stroke-width="1.1"/>
<line x1="470.20" y1="56.25" x2="475.60" y2="56.25" stroke="#b03050" stroke-width="1.1"/>
<line x1="480.60" y1="40.50" x2="480.60" y2="67.00" stroke="#b03050" stroke-width="1.1"/>
<line x1="477.90" y1="40.50" x2="483.30" y2="40.50" stroke="#b03050" stroke-width="1.1"/>
<line x1="477.90" y1="67.00" x2="483.30" y2="67.00" stroke="#b03050" stroke-width="1.1"/>
<line x1="488.30" y1="42.50" x2="488.30" y2="80.00" stroke="#b03050" stroke-width="1.1"/>
<line x1="485.60" y1="42.50" x2="491.00" y2="42.50" stroke="#b03050" stroke-width="1.1"/>
<line x1="485.60" y1="80.00" x2="491.00" y2="80.00" stroke="#b03050" stroke-width="1.1"/>
<line x1="496.00" y1="37.50" x2="496.00" y2="66.25" stroke="#b03050" stroke-width="1.1"/>
<line x1="493.30" y1="37.50" x2="498.70" y2="37.50" stroke="#b03050" stroke-width="1.1"/>
<line x1="493.30" y1="66.25" x2="498.70" y2="66.25" stroke="#b03050" stroke-width="1.1"/>
<line x1="503.70" y1="40.50" x2="503.70" y2="72.50" stroke="#b03050" stroke-width="1.1"/>
<line x1="501.00" y1="40.50" x2="506.40" y2="40.50" stroke="#b03050" stroke-width="1.1"/>
<line x1="501.00" y1="72.50" x2="506.40" y2="72.50" stroke="#b03050" stroke-width="1.1"/>
<polyline points="318.90,156.90 326.60,156.90 334.30,156.90 342.00,156.90 349.70,156.90 357.40,156.90 365.10,156.90 372.80,156.90 380.50,156.90 388.20,154.00 395.90,152.50 403.60,152.50 411.30,152.50 419.00,152.50 426.70,114.50 434.40,92.00 442.10,77.50 449.80,52.50 457.50,48.25 465.20,52.75 472.90,45.00 480.60,53.00 488.30,61.25 496.00,52.00 503.70,56.50" fill="none" stroke="#c8102e" stroke-width="1.3" stroke-linejoin="miter"/>
<circle cx="318.90" cy="156.90" r="2.9" fill="#c8102e"/>
<circle cx="326.60" cy="156.90" r="2.9" fill="#c8102e"/>
<circle cx="334.30" cy="156.90" r="2.9" fill="#c8102e"/>
<circle cx="342.00" cy="156.90" r="2.9" fill="#c8102e"/>
<circle cx="349.70" cy="156.90" r="2.9" fill="#c8102e"/>
<circle cx="357.40" cy="156.90" r="2.9" fill="#c8102e"/>
<circle cx="365.10" cy="156.90" r="2.9" fill="#c8102e"/>
<circle cx="372.80" cy="156.90" r="2.9" fill="#c8102e"/>
<circle cx="380.50" cy="156.90" r="2.9" fill="#c8102e"/>
<circle cx="388.20" cy="154.00" r="2.9" fill="#c8102e"/>
<circle cx="395.90" cy="152.50" r="2.9" fill="#c8102e"/>
<circle cx="403.60" cy="152.50" r="2.9" fill="#c8102e"/>
<circle cx="411.30" cy="152.50" r="2.9" fill="#c8102e"/>
<circle cx="419.00" cy="152.50" r="2.9" fill="#c8102e"/>
<circle cx="426.70" cy="114.50" r="2.9" fill="#c8102e"/>
<circle cx="434.40" cy="92.00" r="2.9" fill="#c8102e"/>
<circle cx="442.10" cy="77.50" r="2.9" fill="#c8102e"/>
<circle cx="449.80" cy="52.50" r="2.9" fill="#c8102e"/>
<circle cx="457.50" cy="48.25" r="2.9" fill="#c8102e"/>
<circle cx="465.20" cy="52.75" r="2.9" fill="#c8102e"/>
<circle cx="472.90" cy="45.00" r="2.9" fill="#c8102e"/>
<circle cx="480.60" cy="53.00" r="2.9" fill="#c8102e"/>
<circle cx="488.30" cy="61.25" r="2.9" fill="#c8102e"/>
<circle cx="496.00" cy="52.00" r="2.9" fill="#c8102e"/>
<circle cx="503.70" cy="56.50" r="2.9" fill="#c8102e"/>
<line x1="328.00" y1="99.60" x2="344.60" y2="99.60" stroke="#c8102e" stroke-width="1.4"/>
<circle cx="336.20" cy="99.60" r="3.1" fill="#c8102e"/>
<line x1="328.00" y1="112.20" x2="344.60" y2="112.20" stroke="#1b4f85" stroke-width="1.4"/>
<rect x="333.20" y="109.20" width="6" height="6" fill="#1b4f85"/>
<text x="348.50" y="102.20" font-size="8.1" text-anchor="start" fill="#222" font-weight="normal" >Mock</text>
<text x="348.50" y="114.80" font-size="8.1" text-anchor="start" fill="#222" font-weight="normal" >CRISPR</text>
<text x="464.8" y="97.9" font-size="8.7" fill="#222"><tspan font-style="italic">P</tspan> &lt; .0001</text>
<text x="7.70" y="453.40" font-size="13.5" text-anchor="start" fill="#000" font-weight="bold" >D</text>
<text x="153.70" y="448.00" font-size="10.2" text-anchor="middle" fill="#222" font-weight="normal" >Molm13</text>
<line x1="58.50" y1="454.30" x2="58.50" y2="584.80" stroke="#1a1a1a" stroke-width="1.4"/>
<line x1="55.30" y1="583.90" x2="248.50" y2="583.90" stroke="#1a1a1a" stroke-width="1.7"/>
<line x1="55.30" y1="583.80" x2="58.50" y2="583.80" stroke="#1a1a1a" stroke-width="1.2"/>
<text x="51.20" y="587.00" font-size="9" text-anchor="end" fill="#222" font-weight="normal" >0.0</text>
<line x1="55.30" y1="552.27" x2="58.50" y2="552.27" stroke="#1a1a1a" stroke-width="1.2"/>
<text x="51.20" y="555.48" font-size="9" text-anchor="end" fill="#222" font-weight="normal" >0.5</text>
<line x1="55.30" y1="520.75" x2="58.50" y2="520.75" stroke="#1a1a1a" stroke-width="1.2"/>
<text x="51.20" y="523.95" font-size="9" text-anchor="end" fill="#222" font-weight="normal" >1.0</text>
<line x1="55.30" y1="489.22" x2="58.50" y2="489.22" stroke="#1a1a1a" stroke-width="1.2"/>
<text x="51.20" y="492.42" font-size="9" text-anchor="end" fill="#222" font-weight="normal" >1.5</text>
<line x1="55.30" y1="457.70" x2="58.50" y2="457.70" stroke="#1a1a1a" stroke-width="1.2"/>
<text x="51.20" y="460.90" font-size="9" text-anchor="end" fill="#222" font-weight="normal" >2.0</text>
<line x1="58.50" y1="584.00" x2="58.50" y2="587.00" stroke="#1a1a1a" stroke-width="1.2"/>
<text x="58.50" y="598.80" font-size="9" text-anchor="middle" fill="#222" font-weight="normal" >0</text>
<line x1="111.47" y1="584.00" x2="111.47" y2="587.00" stroke="#1a1a1a" stroke-width="1.2"/>
<text x="111.47" y="598.80" font-size="9" text-anchor="middle" fill="#222" font-weight="normal" >24</text>
<line x1="164.44" y1="584.00" x2="164.44" y2="587.00" stroke="#1a1a1a" stroke-width="1.2"/>
<text x="164.44" y="598.80" font-size="9" text-anchor="middle" fill="#222" font-weight="normal" >48</text>
<line x1="217.40" y1="584.00" x2="217.40" y2="587.00" stroke="#1a1a1a" stroke-width="1.2"/>
<text x="217.40" y="598.80" font-size="9" text-anchor="middle" fill="#222" font-weight="normal" >72</text>
<text x="153.9" y="613.8" font-size="10" text-anchor="middle" fill="#222" textLength="18.5" stroke="#222" stroke-width="0.2" lengthAdjust="spacingAndGlyphs">Hours</text>
<text transform="translate(32.80,518.70) rotate(-90)" x="0" y="0" font-size="10" text-anchor="middle" fill="#222" stroke="#222" stroke-width="0.2" textLength="45.5" lengthAdjust="spacingAndGlyphs">G. I. intensity</text>
<polyline points="58.50,520.75 62.91,516.97 67.33,512.55 71.74,507.51 76.16,501.83 80.57,497.42 84.98,493.64 89.40,491.12 93.81,489.86 98.23,489.22 102.64,489.22 107.05,490.49 111.47,492.38 115.88,494.27 120.30,496.79 124.71,499.94 129.12,503.73 133.54,508.14 137.95,514.44 142.37,520.75 146.78,525.79 151.19,531.47 155.61,537.14 160.02,542.82 164.44,548.49 168.85,553.54 173.26,557.95 177.68,562.05 182.09,566.15 186.51,569.61 190.92,573.08 195.33,575.60 199.75,577.50 204.16,579.39 208.58,580.65 212.99,581.91 217.40,582.54 221.82,582.85 226.23,583.17 230.65,583.17 235.06,583.17 239.47,583.17 243.89,583.17" fill="none" stroke="#1b4f85" stroke-width="1.3" stroke-linejoin="miter"/>
<rect x="56.00" y="518.25" width="5" height="5" fill="#1b4f85"/>
<rect x="60.41" y="514.47" width="5" height="5" fill="#1b4f85"/>
<rect x="64.83" y="510.05" width="5" height="5" fill="#1b4f85"/>
<rect x="69.24" y="505.01" width="5" height="5" fill="#1b4f85"/>
<rect x="73.66" y="499.33" width="5" height="5" fill="#1b4f85"/>
<rect x="78.07" y="494.92" width="5" height="5" fill="#1b4f85"/>
<rect x="82.48" y="491.14" width="5" height="5" fill="#1b4f85"/>
<rect x="86.90" y="488.62" width="5" height="5" fill="#1b4f85"/>
<rect x="91.31" y="487.36" width="5" height="5" fill="#1b4f85"/>
<rect x="95.73" y="486.72" width="5" height="5" fill="#1b4f85"/>
<rect x="100.14" y="486.72" width="5" height="5" fill="#1b4f85"/>
<rect x="104.55" y="487.99" width="5" height="5" fill="#1b4f85"/>
<rect x="108.97" y="489.88" width="5" height="5" fill="#1b4f85"/>
<rect x="113.38" y="491.77" width="5" height="5" fill="#1b4f85"/>
<rect x="117.80" y="494.29" width="5" height="5" fill="#1b4f85"/>
<rect x="122.21" y="497.44" width="5" height="5" fill="#1b4f85"/>
<rect x="126.62" y="501.23" width="5" height="5" fill="#1b4f85"/>
<rect x="131.04" y="505.64" width="5" height="5" fill="#1b4f85"/>
<rect x="135.45" y="511.94" width="5" height="5" fill="#1b4f85"/>
<rect x="139.87" y="518.25" width="5" height="5" fill="#1b4f85"/>
<rect x="144.28" y="523.29" width="5" height="5" fill="#1b4f85"/>
<rect x="148.69" y="528.97" width="5" height="5" fill="#1b4f85"/>
<rect x="153.11" y="534.64" width="5" height="5" fill="#1b4f85"/>
<rect x="157.52" y="540.32" width="5" height="5" fill="#1b4f85"/>
<rect x="161.94" y="545.99" width="5" height="5" fill="#1b4f85"/>
<rect x="166.35" y="551.04" width="5" height="5" fill="#1b4f85"/>
<rect x="170.76" y="555.45" width="5" height="5" fill="#1b4f85"/>
<rect x="175.18" y="559.55" width="5" height="5" fill="#1b4f85"/>
<rect x="179.59" y="563.65" width="5" height="5" fill="#1b4f85"/>
<rect x="184.01" y="567.11" width="5" height="5" fill="#1b4f85"/>
<rect x="188.42" y="570.58" width="5" height="5" fill="#1b4f85"/>
<rect x="192.83" y="573.10" width="5" height="5" fill="#1b4f85"/>
<rect x="197.25" y="575.00" width="5" height="5" fill="#1b4f85"/>
<rect x="201.66" y="576.89" width="5" height="5" fill="#1b4f85"/>
<rect x="206.08" y="578.15" width="5" height="5" fill="#1b4f85"/>
<rect x="210.49" y="579.41" width="5" height="5" fill="#1b4f85"/>
<rect x="214.90" y="580.04" width="5" height="5" fill="#1b4f85"/>
<rect x="219.32" y="580.35" width="5" height="5" fill="#1b4f85"/>
<rect x="223.73" y="580.67" width="5" height="5" fill="#1b4f85"/>
<rect x="228.15" y="580.67" width="5" height="5" fill="#1b4f85"/>
<rect x="232.56" y="580.67" width="5" height="5" fill="#1b4f85"/>
<rect x="236.97" y="580.67" width="5" height="5" fill="#1b4f85"/>
<rect x="241.39" y="580.67" width="5" height="5" fill="#1b4f85"/>
<polyline points="58.50,520.75 62.91,516.34 67.33,510.66 71.74,503.73 76.16,497.42 80.57,492.38 84.98,487.96 89.40,485.44 93.81,483.55 98.23,482.92 102.64,482.92 107.05,484.18 111.47,485.44 115.88,487.33 120.30,489.86 124.71,493.01 129.12,496.79 133.54,500.57 137.95,504.99 142.37,510.35 146.78,515.71 151.19,521.38 155.61,527.05 160.02,532.41 164.44,537.77 168.85,542.82 173.26,547.86 177.68,552.27 182.09,556.69 186.51,561.10 190.92,565.20 195.33,568.67 199.75,571.51 204.16,573.40 208.58,575.29 212.99,577.18 217.40,578.76 221.82,580.02 226.23,580.96 230.65,581.59 235.06,582.10 239.47,582.54 243.89,582.85" fill="none" stroke="#c8102e" stroke-width="1.3" stroke-linejoin="miter"/>
<circle cx="58.50" cy="520.75" r="2.7" fill="#c8102e"/>
<circle cx="62.91" cy="516.34" r="2.7" fill="#c8102e"/>
<circle cx="67.33" cy="510.66" r="2.7" fill="#c8102e"/>
<circle cx="71.74" cy="503.73" r="2.7" fill="#c8102e"/>
<circle cx="76.16" cy="497.42" r="2.7" fill="#c8102e"/>
<circle cx="80.57" cy="492.38" r="2.7" fill="#c8102e"/>
<circle cx="84.98" cy="487.96" r="2.7" fill="#c8102e"/>
<circle cx="89.40" cy="485.44" r="2.7" fill="#c8102e"/>
<circle cx="93.81" cy="483.55" r="2.7" fill="#c8102e"/>
<circle cx="98.23" cy="482.92" r="2.7" fill="#c8102e"/>
<circle cx="102.64" cy="482.92" r="2.7" fill="#c8102e"/>
<circle cx="107.05" cy="484.18" r="2.7" fill="#c8102e"/>
<circle cx="111.47" cy="485.44" r="2.7" fill="#c8102e"/>
<circle cx="115.88" cy="487.33" r="2.7" fill="#c8102e"/>
<circle cx="120.30" cy="489.86" r="2.7" fill="#c8102e"/>
<circle cx="124.71" cy="493.01" r="2.7" fill="#c8102e"/>
<circle cx="129.12" cy="496.79" r="2.7" fill="#c8102e"/>
<circle cx="133.54" cy="500.57" r="2.7" fill="#c8102e"/>
<circle cx="137.95" cy="504.99" r="2.7" fill="#c8102e"/>
<circle cx="142.37" cy="510.35" r="2.7" fill="#c8102e"/>
<circle cx="146.78" cy="515.71" r="2.7" fill="#c8102e"/>
<circle cx="151.19" cy="521.38" r="2.7" fill="#c8102e"/>
<circle cx="155.61" cy="527.05" r="2.7" fill="#c8102e"/>
<circle cx="160.02" cy="532.41" r="2.7" fill="#c8102e"/>
<circle cx="164.44" cy="537.77" r="2.7" fill="#c8102e"/>
<circle cx="168.85" cy="542.82" r="2.7" fill="#c8102e"/>
<circle cx="173.26" cy="547.86" r="2.7" fill="#c8102e"/>
<circle cx="177.68" cy="552.27" r="2.7" fill="#c8102e"/>
<circle cx="182.09" cy="556.69" r="2.7" fill="#c8102e"/>
<circle cx="186.51" cy="561.10" r="2.7" fill="#c8102e"/>
<circle cx="190.92" cy="565.20" r="2.7" fill="#c8102e"/>
<circle cx="195.33" cy="568.67" r="2.7" fill="#c8102e"/>
<circle cx="199.75" cy="571.51" r="2.7" fill="#c8102e"/>
<circle cx="204.16" cy="573.40" r="2.7" fill="#c8102e"/>
<circle cx="208.58" cy="575.29" r="2.7" fill="#c8102e"/>
<circle cx="212.99" cy="577.18" r="2.7" fill="#c8102e"/>
<circle cx="217.40" cy="578.76" r="2.7" fill="#c8102e"/>
<circle cx="221.82" cy="580.02" r="2.7" fill="#c8102e"/>
<circle cx="226.23" cy="580.96" r="2.7" fill="#c8102e"/>
<circle cx="230.65" cy="581.59" r="2.7" fill="#c8102e"/>
<circle cx="235.06" cy="582.10" r="2.7" fill="#c8102e"/>
<circle cx="239.47" cy="582.54" r="2.7" fill="#c8102e"/>
<circle cx="243.89" cy="582.85" r="2.7" fill="#c8102e"/>
<line x1="73.30" y1="551.00" x2="90.00" y2="551.00" stroke="#c8102e" stroke-width="1.4"/>
<circle cx="81.50" cy="551.00" r="3.1" fill="#c8102e"/>
<line x1="73.30" y1="563.50" x2="90.00" y2="563.50" stroke="#1b4f85" stroke-width="1.4"/>
<rect x="78.50" y="560.50" width="6" height="6" fill="#1b4f85"/>
<text x="94.00" y="553.90" font-size="8.2" text-anchor="start" fill="#222" font-weight="normal" >Mock</text>
<text x="94.00" y="566.40" font-size="8.2" text-anchor="start" fill="#222" font-weight="normal" >CRISPR</text>
<text x="267.60" y="453.40" font-size="13.5" text-anchor="start" fill="#000" font-weight="bold" >E</text>
<text x="409.60" y="447.70" font-size="10.2" text-anchor="middle" fill="#222" font-weight="normal" >Nalm6</text>
<line x1="314.20" y1="454.30" x2="314.20" y2="584.80" stroke="#1a1a1a" stroke-width="1.4"/>
<line x1="311.00" y1="583.90" x2="505.00" y2="583.90" stroke="#1a1a1a" stroke-width="1.7"/>
<line x1="311.00" y1="583.90" x2="314.20" y2="583.90" stroke="#1a1a1a" stroke-width="1.2"/>
<text x="307.20" y="587.10" font-size="9" text-anchor="end" fill="#222" font-weight="normal" >0.0</text>
<line x1="311.00" y1="541.90" x2="314.20" y2="541.90" stroke="#1a1a1a" stroke-width="1.2"/>
<text x="307.20" y="545.10" font-size="9" text-anchor="end" fill="#222" font-weight="normal" >0.4</text>
<line x1="311.00" y1="499.90" x2="314.20" y2="499.90" stroke="#1a1a1a" stroke-width="1.2"/>
<text x="307.20" y="503.10" font-size="9" text-anchor="end" fill="#222" font-weight="normal" >0.8</text>
<line x1="311.00" y1="457.90" x2="314.20" y2="457.90" stroke="#1a1a1a" stroke-width="1.2"/>
<text x="307.20" y="461.10" font-size="9" text-anchor="end" fill="#222" font-weight="normal" >1.2</text>
<line x1="318.80" y1="584.00" x2="318.80" y2="587.00" stroke="#1a1a1a" stroke-width="1.2"/>
<text x="318.80" y="598.80" font-size="9" text-anchor="middle" fill="#222" font-weight="normal" >0</text>
<line x1="408.90" y1="584.00" x2="408.90" y2="587.00" stroke="#1a1a1a" stroke-width="1.2"/>
<text x="408.90" y="598.80" font-size="9" text-anchor="middle" fill="#222" font-weight="normal" >24</text>
<line x1="498.99" y1="584.00" x2="498.99" y2="587.00" stroke="#1a1a1a" stroke-width="1.2"/>
<text x="498.99" y="598.80" font-size="9" text-anchor="middle" fill="#222" font-weight="normal" >48</text>
<text x="409.8" y="613.6" font-size="10" text-anchor="middle" fill="#222" textLength="18.5" stroke="#222" stroke-width="0.2" lengthAdjust="spacingAndGlyphs">Hours</text>
<text transform="translate(288.80,518.70) rotate(-90)" x="0" y="0" font-size="10" text-anchor="middle" fill="#222" stroke="#222" stroke-width="0.2" textLength="45.5" lengthAdjust="spacingAndGlyphs">G. I. intensity</text>
<polyline points="318.80,478.38 326.31,480.79 333.82,482.89 341.32,486.46 348.83,490.24 356.34,494.86 363.85,499.69 371.36,504.94 378.86,510.40 386.37,516.17 393.88,522.48 401.39,529.30 408.90,536.12 416.40,543.79 423.91,550.09 431.42,555.55 438.93,560.38 446.44,564.48 453.94,567.83 461.45,570.46 468.96,572.14 476.47,573.50 483.98,574.13 491.48,574.45 498.99,574.45" fill="none" stroke="#c8102e" stroke-width="1.3" stroke-linejoin="miter"/>
<circle cx="318.80" cy="478.38" r="2.9" fill="#c8102e"/>
<circle cx="326.31" cy="480.79" r="2.9" fill="#c8102e"/>
<circle cx="333.82" cy="482.89" r="2.9" fill="#c8102e"/>
<circle cx="341.32" cy="486.46" r="2.9" fill="#c8102e"/>
<circle cx="348.83" cy="490.24" r="2.9" fill="#c8102e"/>
<circle cx="356.34" cy="494.86" r="2.9" fill="#c8102e"/>
<circle cx="363.85" cy="499.69" r="2.9" fill="#c8102e"/>
<circle cx="371.36" cy="504.94" r="2.9" fill="#c8102e"/>
<circle cx="378.86" cy="510.40" r="2.9" fill="#c8102e"/>
<circle cx="386.37" cy="516.17" r="2.9" fill="#c8102e"/>
<circle cx="393.88" cy="522.48" r="2.9" fill="#c8102e"/>
<circle cx="401.39" cy="529.30" r="2.9" fill="#c8102e"/>
<circle cx="408.90" cy="536.12" r="2.9" fill="#c8102e"/>
<circle cx="416.40" cy="543.79" r="2.9" fill="#c8102e"/>
<circle cx="423.91" cy="550.09" r="2.9" fill="#c8102e"/>
<circle cx="431.42" cy="555.55" r="2.9" fill="#c8102e"/>
<circle cx="438.93" cy="560.38" r="2.9" fill="#c8102e"/>
<circle cx="446.44" cy="564.48" r="2.9" fill="#c8102e"/>
<circle cx="453.94" cy="567.83" r="2.9" fill="#c8102e"/>
<circle cx="461.45" cy="570.46" r="2.9" fill="#c8102e"/>
<circle cx="468.96" cy="572.14" r="2.9" fill="#c8102e"/>
<circle cx="476.47" cy="573.50" r="2.9" fill="#c8102e"/>
<circle cx="483.98" cy="574.13" r="2.9" fill="#c8102e"/>
<circle cx="491.48" cy="574.45" r="2.9" fill="#c8102e"/>
<circle cx="498.99" cy="574.45" r="2.9" fill="#c8102e"/>
<polyline points="318.80,478.38 326.31,481.21 333.82,483.62 341.32,486.88 348.83,490.45 356.34,494.65 363.85,499.06 371.36,503.78 378.86,508.72 386.37,514.18 393.88,519.64 401.39,525.10 408.90,530.88 416.40,537.70 423.91,544.52 431.42,550.51 438.93,555.55 446.44,559.96 453.94,563.95 461.45,567.10 468.96,569.51 476.47,571.30 483.98,572.98 491.48,573.61 498.99,573.72" fill="none" stroke="#1b4f85" stroke-width="1.3" stroke-linejoin="miter"/>
<rect x="316.00" y="475.57" width="5.6" height="5.6" fill="#1b4f85"/>
<rect x="323.51" y="478.41" width="5.6" height="5.6" fill="#1b4f85"/>
<rect x="331.02" y="480.82" width="5.6" height="5.6" fill="#1b4f85"/>
<rect x="338.52" y="484.08" width="5.6" height="5.6" fill="#1b4f85"/>
<rect x="346.03" y="487.65" width="5.6" height="5.6" fill="#1b4f85"/>
<rect x="353.54" y="491.85" width="5.6" height="5.6" fill="#1b4f85"/>
<rect x="361.05" y="496.26" width="5.6" height="5.6" fill="#1b4f85"/>
<rect x="368.56" y="500.98" width="5.6" height="5.6" fill="#1b4f85"/>
<rect x="376.06" y="505.92" width="5.6" height="5.6" fill="#1b4f85"/>
<rect x="383.57" y="511.38" width="5.6" height="5.6" fill="#1b4f85"/>
<rect x="391.08" y="516.84" width="5.6" height="5.6" fill="#1b4f85"/>
<rect x="398.59" y="522.30" width="5.6" height="5.6" fill="#1b4f85"/>
<rect x="406.10" y="528.08" width="5.6" height="5.6" fill="#1b4f85"/>
<rect x="413.60" y="534.90" width="5.6" height="5.6" fill="#1b4f85"/>
<rect x="421.11" y="541.73" width="5.6" height="5.6" fill="#1b4f85"/>
<rect x="428.62" y="547.71" width="5.6" height="5.6" fill="#1b4f85"/>
<rect x="436.13" y="552.75" width="5.6" height="5.6" fill="#1b4f85"/>
<rect x="443.64" y="557.16" width="5.6" height="5.6" fill="#1b4f85"/>
<rect x="451.14" y="561.15" width="5.6" height="5.6" fill="#1b4f85"/>
<rect x="458.65" y="564.30" width="5.6" height="5.6" fill="#1b4f85"/>
<rect x="466.16" y="566.72" width="5.6" height="5.6" fill="#1b4f85"/>
<rect x="473.67" y="568.50" width="5.6" height="5.6" fill="#1b4f85"/>
<rect x="481.18" y="570.18" width="5.6" height="5.6" fill="#1b4f85"/>
<rect x="488.68" y="570.81" width="5.6" height="5.6" fill="#1b4f85"/>
<rect x="496.19" y="570.92" width="5.6" height="5.6" fill="#1b4f85"/>
<line x1="329.20" y1="545.40" x2="345.40" y2="545.40" stroke="#c8102e" stroke-width="1.4"/>
<circle cx="337.30" cy="545.40" r="3.1" fill="#c8102e"/>
<line x1="329.20" y1="558.00" x2="345.40" y2="558.00" stroke="#1b4f85" stroke-width="1.4"/>
<rect x="334.30" y="555.00" width="6" height="6" fill="#1b4f85"/>
<text x="349.50" y="548.30" font-size="8.2" text-anchor="start" fill="#222" font-weight="normal" >Mock</text>
<text x="349.50" y="560.90" font-size="8.2" text-anchor="start" fill="#222" font-weight="normal" >CRISPR</text>
<rect x="0.5" y="0.5" width="519" height="623" fill="none" stroke="#4a4a4a" stroke-width="1"/>
</svg>
</body></html>
